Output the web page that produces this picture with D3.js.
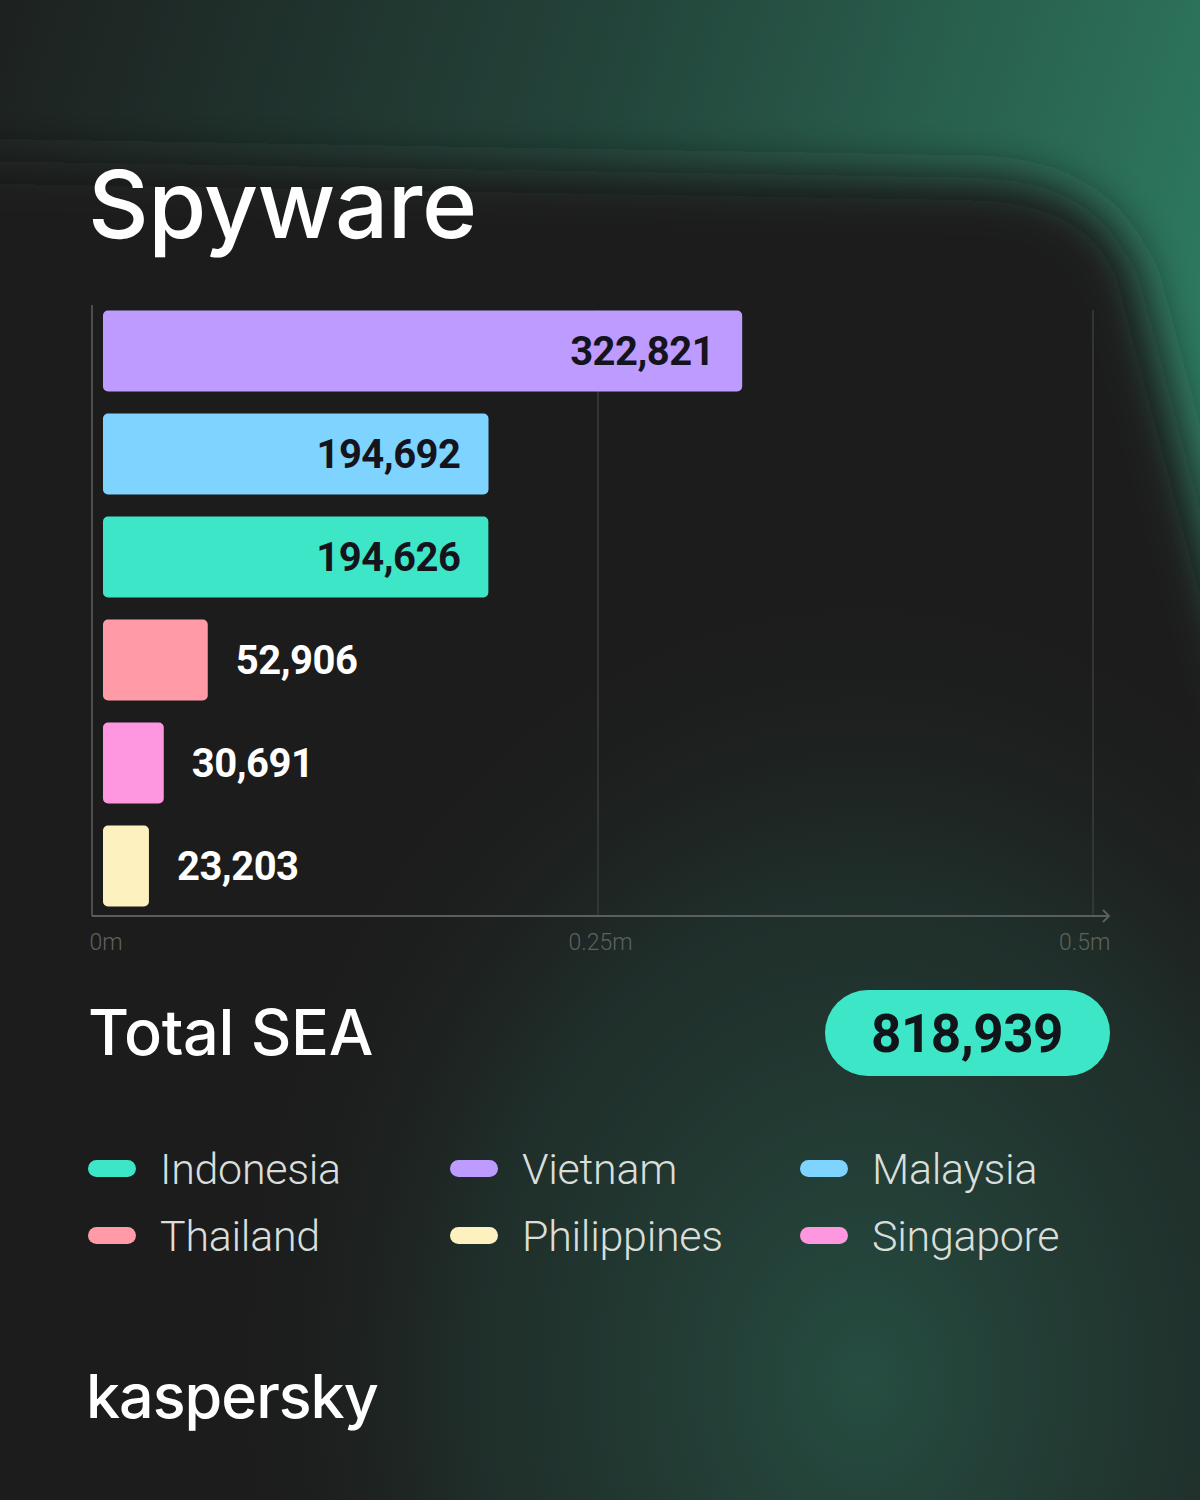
<!DOCTYPE html>
<html><head><meta charset="utf-8">
<script src="https://cdn.jsdelivr.net/npm/d3@7"></script>
<style>html,body{margin:0;padding:0;background:#1b1b1b;}svg{display:block;}</style>
</head><body>
<script>
const countries = ["Vietnam","Malaysia","Indonesia","Thailand","Singapore","Philippines"];
const values = [322821,194692,194626,52906,30691,23203];
const colors = ["#bd9bff","#7fd4ff","#3ee6c8","#ff9ba6","#ff96e0","#fdf1c0"];
const tickValues = [0,250000,500000];
const tickLabels = ["0m","0.25m","0.5m"];
const legendOrder = ["Indonesia","Vietnam","Malaysia","Thailand","Philippines","Singapore"];
const totalLabel = "Total SEA";
const totalValue = 818939;
const title = "Spyware";
const brand = "kaspersky";

const W=1200,H=1500;
const svg=d3.select("body").append("svg").attr("width",W).attr("height",H);
const defs=svg.append("defs");

// background
const lg=defs.append("linearGradient").attr("id","topg").attr("x1","0").attr("y1","0").attr("x2","1").attr("y2","0.4");
lg.append("stop").attr("offset","0").attr("stop-color","#1d2120");
lg.append("stop").attr("offset","0.45").attr("stop-color","#23443a");
lg.append("stop").attr("offset","1").attr("stop-color","#2f8065");
const bg=defs.append("radialGradient").attr("id","botg").attr("cx","0.72").attr("cy","0.92").attr("r","0.55");
bg.append("stop").attr("offset","0").attr("stop-color","#264d41").attr("stop-opacity",1);
bg.append("stop").attr("offset","0.6").attr("stop-color","#223a33").attr("stop-opacity",0.6);
bg.append("stop").attr("offset","1").attr("stop-color","#1c1c1c").attr("stop-opacity",0);
const blur=defs.append("filter").attr("id","blur").attr("x","-0.2").attr("y","-0.2").attr("width","1.4").attr("height","1.4");
blur.append("feGaussianBlur").attr("stdDeviation",24);

svg.append("rect").attr("width",W).attr("height",H).attr("fill","url(#topg)");
svg.append("path").attr("filter","url(#blur)").attr("fill","#1c1c1c")
  .attr("d","M -80 160 L 990 178 Q 1105 185 1138 275 L 1250 700 L 1250 1600 L -80 1600 Z");
svg.append("rect").attr("width",W).attr("height",H).attr("fill","url(#botg)");

// title
svg.append("text").attr("x",88).attr("y",238).text(title)
  .attr("font-family","Inter").attr("font-weight",500).attr("font-size",94).attr("fill","#ffffff").attr("letter-spacing",-0.5);

// scales
const x=d3.scaleLinear().domain([0,500000]).range([103,1093]);
const y=d3.scaleBand().domain(countries).range([299.5,917.5]).paddingInner(0.214).paddingOuter(0.107);
const axisX=x(0)-11;

// grid
const g=svg.append("g");
g.selectAll("line.grid").data(tickValues.slice(1)).join("line")
  .attr("x1",d=>x(d)).attr("x2",d=>x(d)).attr("y1",310).attr("y2",916)
  .attr("stroke","#3a3e3c").attr("stroke-width",1.5);
g.append("line").attr("x1",axisX).attr("x2",axisX).attr("y1",305).attr("y2",916).attr("stroke","#4a4e4c").attr("stroke-width",2);

// bars
const bars=g.selectAll("g.bar").data(countries.map((c,i)=>({c,v:values[i],col:colors[i]}))).join("g");
bars.append("rect").attr("x",x(0)).attr("y",d=>y(d.c)).attr("width",d=>x(d.v)-x(0)).attr("height",y.bandwidth())
  .attr("rx",5).attr("fill",d=>d.col);
const fmt=d3.format(",");
const inside=d=>x(d.v)-x(0)>250;
bars.append("text")
  .attr("x",d=>inside(d)? x(d.v)-28 : x(d.v)+28)
  .attr("y",d=>y(d.c)+y.bandwidth()/2+14)
  .attr("text-anchor",d=>inside(d)?"end":"start")
  .attr("fill",d=>inside(d)?"#15141c":"#ffffff")
  .attr("font-family","Roboto").attr("font-weight",700).attr("font-size",40).attr("letter-spacing",-0.5)
  .text(d=>fmt(d.v));

// x axis
g.append("line").attr("x1",axisX).attr("x2",1109).attr("y1",916).attr("y2",916).attr("stroke","#5a5e5c").attr("stroke-width",2);
g.append("path").attr("d","M 1103 910 L 1109 916 L 1103 922").attr("fill","none").attr("stroke","#5a5e5c").attr("stroke-width",2);
const ax=svg.append("g").attr("transform","translate(0,931)")
  .call(d3.axisBottom(x).tickValues(tickValues).tickSize(0).tickFormat((d,i)=>tickLabels[i]));
ax.select(".domain").remove();
ax.selectAll("text").attr("font-family","Roboto").attr("font-weight",300).attr("font-size",23).attr("fill","#5c625f")
  .attr("text-anchor",(d,i)=>i===0?"start":(i===tickValues.length-1?"end":"middle"))
  .attr("dx",(d,i)=>i===0?-14:(i===tickValues.length-1?17:2));

// total
svg.append("text").attr("x",88).attr("y",1055).text(totalLabel)
  .attr("font-family","Inter").attr("font-weight",500).attr("font-size",63).attr("fill","#ffffff").attr("letter-spacing",-0.3);
svg.append("rect").attr("x",825).attr("y",990).attr("width",285).attr("height",86).attr("rx",43).attr("fill","#3ee6c8");
svg.append("text").attr("x",967).attr("y",1052).attr("text-anchor","middle").text(fmt(totalValue))
  .attr("font-family","Roboto").attr("font-weight",700).attr("font-size",53).attr("fill","#111418").attr("letter-spacing",-0.5);

// legend
const colX=[88,450,800], rowY=[1168,1235];
const leg=svg.append("g").selectAll("g").data(legendOrder).join("g")
  .attr("transform",(d,i)=>`translate(${colX[i%3]},${rowY[Math.floor(i/3)]})`);
leg.append("rect").attr("x",0).attr("y",-8).attr("width",48).attr("height",17).attr("rx",8.5)
  .attr("fill",d=>colors[countries.indexOf(d)]);
leg.append("text").attr("x",72).attr("y",16).text(d=>d)
  .attr("font-family","Roboto").attr("font-weight",300).attr("font-size",43).attr("fill","#d9dedb").attr("letter-spacing",-0.3);

// brand
svg.append("text").attr("x",86).attr("y",1418).text(brand)
  .attr("font-family","Inter").attr("font-weight",500).attr("font-size",61).attr("fill","#ffffff").attr("letter-spacing",-1);
</script>
</body></html>
